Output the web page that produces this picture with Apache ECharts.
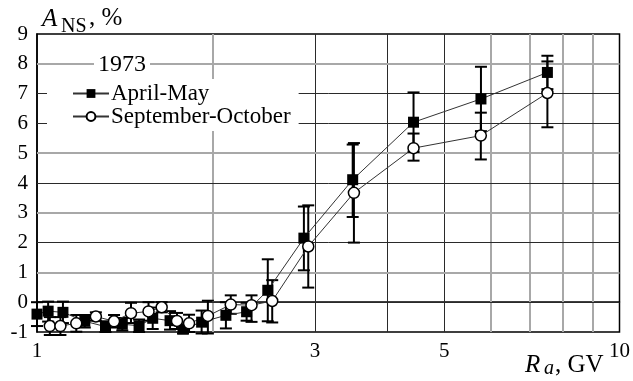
<!DOCTYPE html>
<html><head><meta charset="utf-8">
<script src="https://cdn.jsdelivr.net/npm/echarts@6/dist/echarts.min.js"></script>
<style>html,body{margin:0;padding:0;background:#fff}#c{width:633px;height:381px}</style>
</head><body><div id="c"></div>
<script>
// ---- data ----
const yearLabel = '1973';
const seriesNames = ['April-May', 'September-October'];

const rAprMay  = [1.00, 1.045, 1.108, 1.208, 1.311, 1.401, 1.497, 1.580, 1.692, 1.781, 1.917, 2.110, 2.290, 2.490, 2.872, 3.483, 4.430, 5.783, 7.52];
const aAprMay  = [-0.40, -0.30, -0.34, -0.64, -0.82, -0.74, -0.79, -0.54, -0.62, -0.90, -0.67, -0.44, -0.32, 0.40, 2.15, 4.11, 6.04, 6.82, 7.71];
const loAprMay = [-0.80, -0.65, -0.70, -0.85, -1.00, -0.95, -1.00, -0.90, -0.92, -1.05, -1.05, -0.88, -0.62, -0.64, 1.07, 2.86, 5.04, 5.74, 7.15];
const hiAprMay = [0.00, 0.02, 0.02, -0.43, -0.64, -0.53, -0.58, -0.18, -0.30, -0.75, -0.28, 0.00, -0.02, 1.44, 3.21, 5.29, 7.04, 7.90, 8.27];

const rSepOct  = [1.052, 1.097, 1.168, 1.262, 1.356, 1.450, 1.554, 1.637, 1.739, 1.824, 1.965, 2.151, 2.335, 2.534, 2.922, 3.50, 4.43, 5.78, 7.52];
const aSepOct  = [-0.80, -0.80, -0.71, -0.48, -0.64, -0.37, -0.31, -0.17, -0.63, -0.71, -0.46, -0.08, -0.10, 0.04, 1.87, 3.67, 5.17, 5.59, 7.02];
const loSepOct = [-1.10, -1.10, -0.99, -0.62, -0.85, -0.70, -0.62, -0.34, -0.90, -1.00, -1.05, -0.39, -0.66, -0.68, 0.49, 2.00, 4.75, 4.79, 5.87];
const hiSepOct = [-0.50, -0.50, -0.43, -0.34, -0.43, -0.02, 0.00, 0.00, -0.36, -0.42, 0.05, 0.23, 0.23, 0.74, 3.25, 5.34, 5.66, 6.36, 8.08];

const xTickLabels = [1, 3, 5, 10];
const xGridValues = [2, 3, 4, 5, 6, 7, 8, 9];
const yMin = -1, yMax = 9, yStep = 1;
const yGridValues = [0, 1, 2, 3, 4, 5, 6, 7, 8];

// ---- styling helpers ----
const FONT = '"Liberation Serif", "DejaVu Serif", serif';
const darkX = new Set([3, 4, 5]);
const darkY = new Set([0, 2, 4, 6, 7]);
const darkLine = { color: '#2a2a2a', width: 1, type: 'solid' };
const grayLine = { color: '#a8a8a8', width: 2, type: 'solid' };

const zip = (xs, ys) => xs.map((x, i) => [x, ys[i]]);
const zip3 = (xs, a, b) => xs.map((x, i) => [x, a[i], b[i]]);

function errRender(params, api) {
  const x = api.value(0), lo = api.value(1), hi = api.value(2);
  const p1 = api.coord([x, lo]);
  const p2 = api.coord([x, hi]);
  const w = 6;
  const st = { stroke: '#000', lineWidth: 2 };
  return {
    type: 'group',
    children: [
      { type: 'line', shape: { x1: p1[0], y1: p1[1], x2: p2[0], y2: p2[1] }, style: st },
      { type: 'line', shape: { x1: p1[0] - w, y1: p1[1], x2: p1[0] + w, y2: p1[1] }, style: st },
      { type: 'line', shape: { x1: p2[0] - w, y1: p2[1], x2: p2[0] + w, y2: p2[1] }, style: st }
    ]
  };
}

const gridMarks = [];
xGridValues.forEach(v => gridMarks.push({ xAxis: v, lineStyle: darkX.has(v) ? darkLine : grayLine }));
yGridValues.forEach(v => gridMarks.push({ yAxis: v, lineStyle: darkY.has(v) ? darkLine : grayLine }));

const chart = echarts.init(document.getElementById('c'), null, { renderer: 'canvas' });
chart.setOption({
  animation: false,
  backgroundColor: '#fff',
  grid: { left: 37, right: 6, top: 34, bottom: 49, show: true, borderColor: '#000', borderWidth: 1.5, backgroundColor: 'transparent' },
  title: {
    text: yearLabel, left: 94, top: 52, z: 10,
    backgroundColor: '#fff', padding: [1, 4, 1, 4],
    textStyle: { fontFamily: FONT, fontSize: 24, fontWeight: 'normal', color: '#000' }
  },
  legend: {
    data: seriesNames, orient: 'vertical', left: 47, top: 79, z: 10,
    backgroundColor: '#fff', padding: [3, 8, 3, 25],
    itemWidth: 36, itemHeight: 11, itemGap: 0,
    textStyle: { fontFamily: FONT, fontSize: 23, color: '#000', padding: [0, 0, 0, -3] }
  },
  xAxis: [
    { type: 'log', logBase: 10, min: 1, max: 10, position: 'bottom',
      axisLine: { show: true, lineStyle: { color: '#000', width: 1.5 } },
      axisTick: { show: false }, axisLabel: { show: false }, splitLine: { show: false }, minorSplitLine: { show: false } },
    { type: 'value', min: 0, max: 1, position: 'bottom',
      axisLine: { show: false }, axisTick: { show: false }, splitLine: { show: false },
      axisLabel: { customValues: xTickLabels.map(v => Math.log10(v)), margin: 9,
        formatter: v => String(Math.round(Math.pow(10, v))),
        fontFamily: FONT, fontSize: 21, color: '#000' } }
  ],
  yAxis: {
    type: 'value', min: yMin, max: yMax, interval: yStep,
    axisLine: { show: true, lineStyle: { color: '#000', width: 1.5 } },
    axisTick: { show: false }, splitLine: { show: false },
    axisLabel: { fontFamily: FONT, fontSize: 21, color: '#000', margin: 9 }
  },
  graphic: [
    { type: 'text', left: 42, top: 7, style: { text: 'A', font: 'italic 25px ' + FONT, fill: '#000' } },
    { type: 'text', left: 61, top: 17, style: { text: 'NS', font: '20px ' + FONT, fill: '#000' } },
    { type: 'text', left: 89, top: 6, style: { text: ', %', font: '25px ' + FONT, fill: '#000' } },
    { type: 'text', left: 525, top: 353, style: { text: 'R', font: 'italic 25px ' + FONT, fill: '#000' } },
    { type: 'text', left: 544, top: 359, style: { text: 'a', font: 'italic 20px ' + FONT, fill: '#000' } },
    { type: 'text', left: 555, top: 353, style: { text: ', GV', font: '25px ' + FONT, fill: '#000' } }
  ],
  series: [
    { name: 'grid', type: 'line', xAxisIndex: 0, yAxisIndex: 0, data: [], z: 1, silent: true,
      markLine: { silent: true, z: 1, symbol: ['none', 'none'], label: { show: false }, animation: false, data: gridMarks } },
    { name: 'errA', type: 'custom', xAxisIndex: 0, yAxisIndex: 0, renderItem: errRender, clip: false, z: 2, silent: true,
      encode: { x: 0, y: [1, 2] }, data: zip3(rAprMay, loAprMay, hiAprMay) },
    { name: 'errS', type: 'custom', xAxisIndex: 0, yAxisIndex: 0, renderItem: errRender, clip: false, z: 2, silent: true,
      encode: { x: 0, y: [1, 2] }, data: zip3(rSepOct, loSepOct, hiSepOct) },
    { name: seriesNames[0], type: 'line', xAxisIndex: 0, yAxisIndex: 0, data: zip(rAprMay, aAprMay), z: 3,
      symbol: 'rect', symbolSize: 11, clip: false,
      lineStyle: { color: '#333', width: 1 }, itemStyle: { color: '#000', borderColor: '#000', borderWidth: 0 } },
    { name: seriesNames[1], type: 'line', xAxisIndex: 0, yAxisIndex: 0, data: zip(rSepOct, aSepOct), z: 3,
      symbol: 'circle', symbolSize: 11, clip: false,
      lineStyle: { color: '#333', width: 1 }, itemStyle: { color: '#fff', borderColor: '#000', borderWidth: 1.5 } }
  ]
});
</script>
</body></html>
